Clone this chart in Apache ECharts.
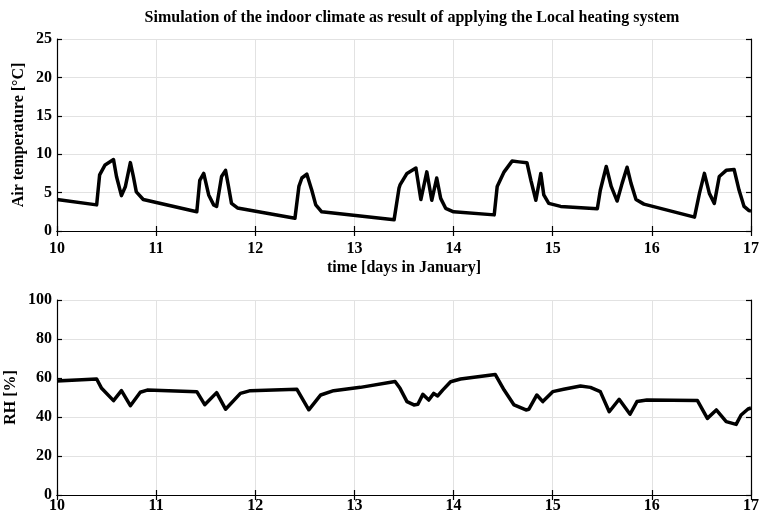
<!DOCTYPE html>
<html><head><meta charset="utf-8">
<script src="https://cdn.jsdelivr.net/npm/echarts@6/dist/echarts.min.js"></script>
<style>html,body{margin:0;padding:0;background:#fff}#c{width:764px;height:517px}</style>
</head><body><div id="c"></div>
<script>
const title = "Simulation of the indoor climate as result of applying the Local heating system";
const xTicks = [10, 11, 12, 13, 14, 15, 16, 17];
const tempDays = [10.00,10.40,10.43,10.485,10.57,10.60,10.65,10.69,10.74,10.77,10.80,10.87,11.41,11.44,11.48,11.53,11.58,11.61,11.66,11.70,11.73,11.76,11.82,12.40,12.44,12.47,12.52,12.57,12.61,12.67,13.40,13.45,13.46,13.53,13.62,13.67,13.73,13.78,13.83,13.87,13.92,14.00,14.41,14.44,14.51,14.59,14.66,14.74,14.78,14.83,14.88,14.91,14.96,15.08,15.45,15.48,15.54,15.59,15.65,15.70,15.75,15.79,15.84,15.92,16.43,16.48,16.53,16.58,16.63,16.68,16.75,16.83,16.88,16.93,16.98,17.00];
const tempVals = [4.1,3.4,7.3,8.6,9.3,7.1,4.6,5.8,8.9,7.1,5.1,4.1,2.5,6.6,7.5,4.7,3.4,3.2,7.1,7.9,5.8,3.6,3.0,1.65,5.8,6.9,7.4,5.3,3.4,2.5,1.45,5.6,6.0,7.5,8.2,4.1,7.7,4.0,6.9,4.25,2.95,2.5,2.1,5.8,7.7,9.1,9.0,8.9,6.6,4.0,7.5,4.7,3.6,3.2,2.9,5.3,8.4,5.8,3.9,6.2,8.3,6.2,4.1,3.5,1.8,4.9,7.5,4.9,3.6,7.1,7.9,8.0,5.3,3.2,2.65,2.6];
const rhDays = [10.00,10.40,10.45,10.57,10.65,10.74,10.84,10.91,11.41,11.49,11.61,11.70,11.85,11.95,12.42,12.54,12.66,12.79,13.06,13.41,13.46,13.53,13.60,13.64,13.69,13.75,13.80,13.84,13.89,13.97,14.07,14.42,14.51,14.61,14.73,14.76,14.84,14.90,15.00,15.11,15.28,15.38,15.48,15.57,15.67,15.78,15.85,15.95,16.46,16.56,16.65,16.75,16.85,16.90,16.97,17.00];
const rhVals = [58.5,59.5,54.7,48.4,53.5,45.8,52.7,53.8,53.0,46.3,52.5,44.0,52.1,53.5,54.2,43.7,51.3,53.5,55.2,58.2,54.7,47.9,46.2,46.5,51.6,48.7,52.1,50.8,53.8,58.1,59.5,61.8,53.8,46.2,43.6,44.0,51.3,47.9,53.0,54.2,55.9,55.2,53.0,42.7,49.1,41.4,47.9,48.7,48.4,39.3,43.6,37.6,36.2,41.0,44.1,44.6];
const tempTicks = [0, 5, 10, 15, 20, 25];
const rhTicks = [0, 20, 40, 60, 80, 100];

const font = "'Liberation Serif', 'DejaVu Serif', serif";
const lbl = {fontFamily: font, fontWeight: 'bold', fontSize: 16, color: '#000'};
const nameStyle = {fontFamily: font, fontWeight: 'bold', fontSize: 16, color: '#000'};
const axisLine = {show: true, lineStyle: {color: '#000', width: 1.2}};
const gridLine = {show: true, lineStyle: {color: '#e2e2e2', width: 1}};
const tick = {show: true, inside: true, length: 5, lineStyle: {color: '#000', width: 1.2}};

function xAx(gi, margin, name) {
  return [{
    type: 'value', gridIndex: gi, min: xTicks[0], max: xTicks[xTicks.length - 1], interval: 1, position: 'bottom',
    axisLine, axisTick: tick, splitLine: gridLine,
    axisLabel: Object.assign({margin: margin}, lbl),
    name: name || '', nameLocation: 'middle', nameGap: 29, nameMoveOverlap: false, nameTextStyle: nameStyle
  }, {
    type: 'value', gridIndex: gi, min: xTicks[0], max: xTicks[xTicks.length - 1], interval: 1, position: 'top',
    axisLine, axisTick: tick, splitLine: {show: false}, axisLabel: {show: false}
  }];
}
function yAx(gi, ticks, name, gap) {
  const max = ticks[ticks.length - 1], interval = ticks[1] - ticks[0];
  return [{
    type: 'value', gridIndex: gi, min: 0, max: max, interval: interval, position: 'left',
    axisLine, axisTick: tick, splitLine: gridLine,
    axisLabel: Object.assign({margin: 5}, lbl),
    name: name, nameLocation: 'middle', nameGap: gap, nameMoveOverlap: false, nameTextStyle: nameStyle
  }, {
    type: 'value', gridIndex: gi, min: 0, max: max, interval: interval, position: 'right',
    axisLine, axisTick: tick, splitLine: {show: false}, axisLabel: {show: false}
  }];
}

const chart = echarts.init(document.getElementById('c'), null, {renderer: 'canvas'});
chart.setOption({
  backgroundColor: '#fff',
  animation: false,
  title: {text: title, left: 407, textAlign: 'center', top: 5, textStyle: {fontFamily: font, fontWeight: 'bold', fontSize: 16, color: '#000'}},
  grid: [
    {left: 57, right: 13, top: 39, height: 192, containLabel: false, outerBoundsMode: 'none'},
    {left: 57, right: 13, top: 300, height: 195, containLabel: false, outerBoundsMode: 'none'}
  ],
  xAxis: [...xAx(0, 10, 'time [days in January]'), ...xAx(1, 3, '')],
  yAxis: [...yAx(0, tempTicks, 'Air temperature [°C]', 30), ...yAx(1, rhTicks, 'RH [%]', 38)],
  series: [
    {type: 'line', xAxisIndex: 0, yAxisIndex: 0, showSymbol: false, symbol: 'none',
     lineStyle: {color: '#000', width: 3.5, join: 'round'}, data: tempDays.map((d, i) => [d, tempVals[i]])},
    {type: 'line', xAxisIndex: 2, yAxisIndex: 2, showSymbol: false, symbol: 'none',
     lineStyle: {color: '#000', width: 3.5, join: 'round'}, data: rhDays.map((d, i) => [d, rhVals[i]])}
  ]
});
</script></body></html>
